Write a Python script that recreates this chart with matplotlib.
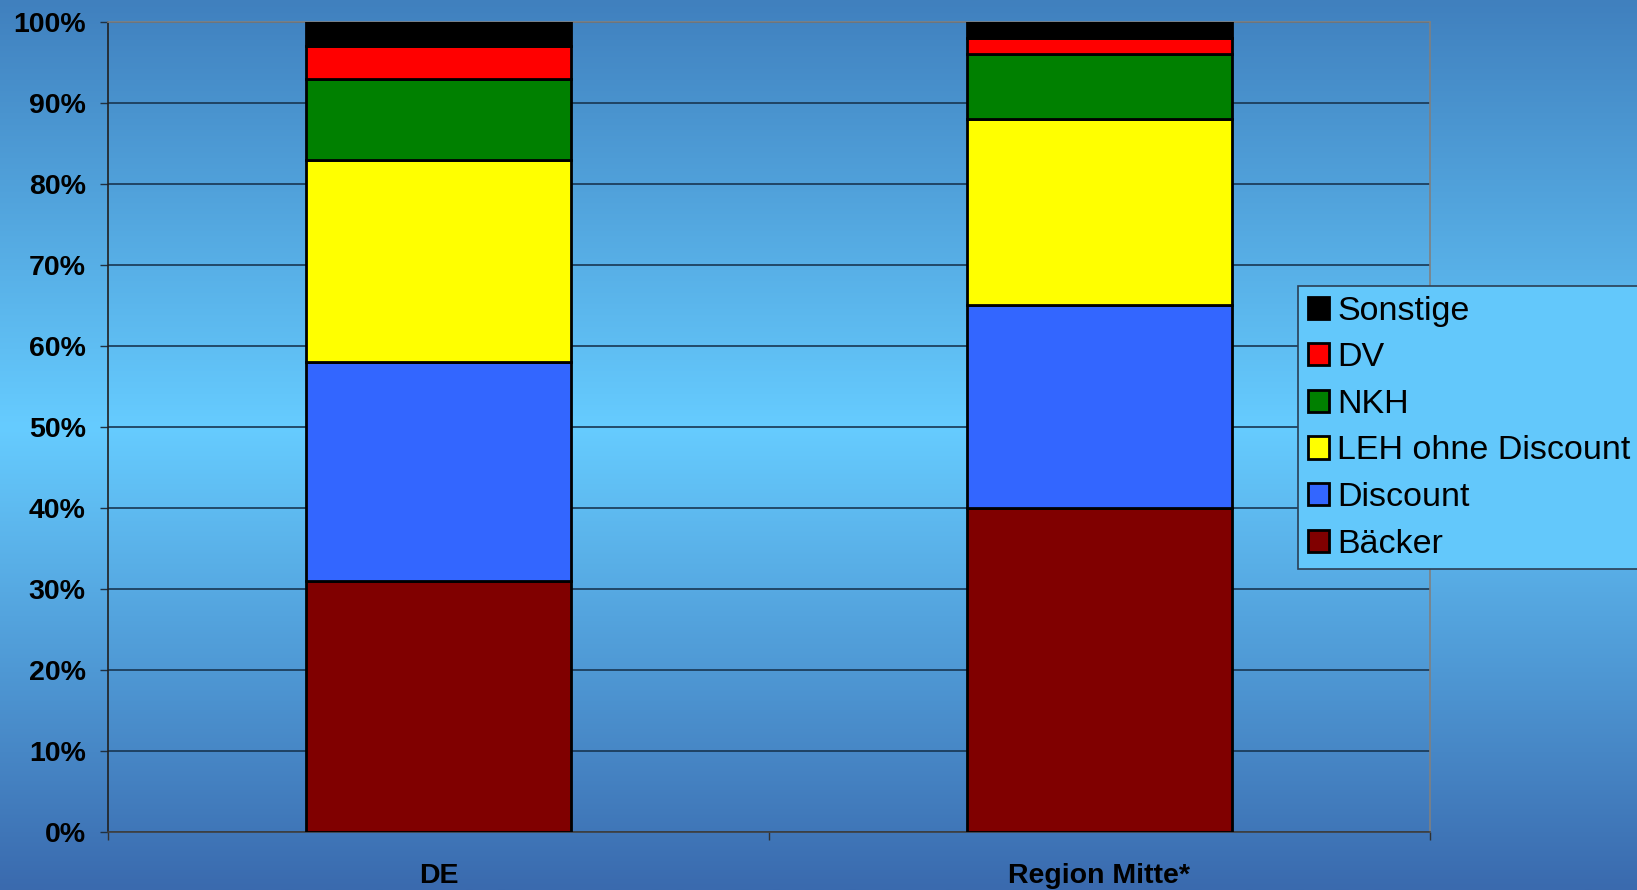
import matplotlib.pyplot as plt
import numpy as np
from matplotlib.ticker import FixedLocator, PercentFormatter

plt.rcParams['font.family'] = ['Liberation Sans', 'DejaVu Sans']

regions = ['DE', 'Region Mitte*']
segments = ['Bäcker', 'Discount', 'LEH ohne Discount', 'NKH', 'DV', 'Sonstige']
baecker = [31, 40]
discount = [27, 25]
leh = [25, 23]
nkh = [10, 8]
dv = [4, 2]
sonstige = [3, 2]
colors = ['#800000', '#3366ff', '#ffff00', '#008000', '#ff0000', '#000000']

fig = plt.figure(figsize=(16.37, 8.9), dpi=100)

# background gradient: darker blue at top and bottom, light cyan in the middle
bg = fig.add_axes([0, 0, 1, 1], zorder=-10)
bg.axis('off')
stops_y = [0.0, 0.48, 1.0]
stops_c = np.array([[64, 128, 190], [102, 204, 255], [58, 106, 174]]) / 255
yy = np.linspace(0, 1, 400)
grad = np.stack([np.interp(yy, stops_y, stops_c[:, k]) for k in range(3)], axis=-1)
bg.imshow(grad[:, None, :], aspect='auto', extent=[0, 1, 1, 0])
bg.set_xlim(0, 1)
bg.set_ylim(1, 0)

ax = fig.add_axes([0.066, 0.0652, 0.8075, 0.9101])
ax.patch.set_alpha(0)

x = np.arange(len(regions))
bottom = np.zeros(len(regions))
for name, vals, c in zip(segments, [baecker, discount, leh, nkh, dv, sonstige], colors):
    ax.bar(x, vals, 0.4, bottom=bottom, color=c, edgecolor='black', linewidth=2.0,
           label=name, zorder=3)
    bottom += np.array(vals)

ax.set_xlim(-0.5, 1.5)
ax.set_ylim(0, 100)
ax.set_yticks(np.arange(0, 101, 10))
ax.yaxis.set_major_formatter(PercentFormatter(decimals=0))
ax.yaxis.grid(True, color='#183652', linewidth=1.2, zorder=1)
ax.tick_params(axis='y', length=6, width=1, color='#203040', pad=10,
               labelsize=20.5)
for lab in ax.get_yticklabels():
    lab.set_fontweight('bold')

ax.xaxis.set_major_locator(FixedLocator([-0.5, 0.5, 1.5]))
ax.xaxis.set_minor_locator(FixedLocator(x))
ax.set_xticklabels([])
ax.set_xticklabels(regions, minor=True, fontsize=20.5, fontweight='bold')
ax.tick_params(axis='x', which='major', length=6, width=1, color='#303030')
ax.tick_params(axis='x', which='minor', length=0, pad=22)

ax.spines['top'].set_color('#808080')
ax.spines['right'].set_color('#808080')
ax.spines['left'].set_color('#202020')
ax.spines['bottom'].set_color('#404040')
for s in ax.spines.values():
    s.set_linewidth(1.2)

handles, labels = ax.get_legend_handles_labels()
leg = fig.legend(handles[::-1], labels[::-1], loc='upper left',
                 bbox_to_anchor=(1298 / 1637, (890 - 286) / 890),
                 fontsize=24.5, frameon=True, fancybox=False,
                 facecolor='#63c8fb', edgecolor='#2a3f55', framealpha=1,
                 handlelength=0.62, handleheight=0.62, handletextpad=0.25,
                 labelspacing=0.46, borderpad=0.28, borderaxespad=0)
leg.get_frame().set_linewidth(1.2)

fig.savefig('out.png', dpi=100)
